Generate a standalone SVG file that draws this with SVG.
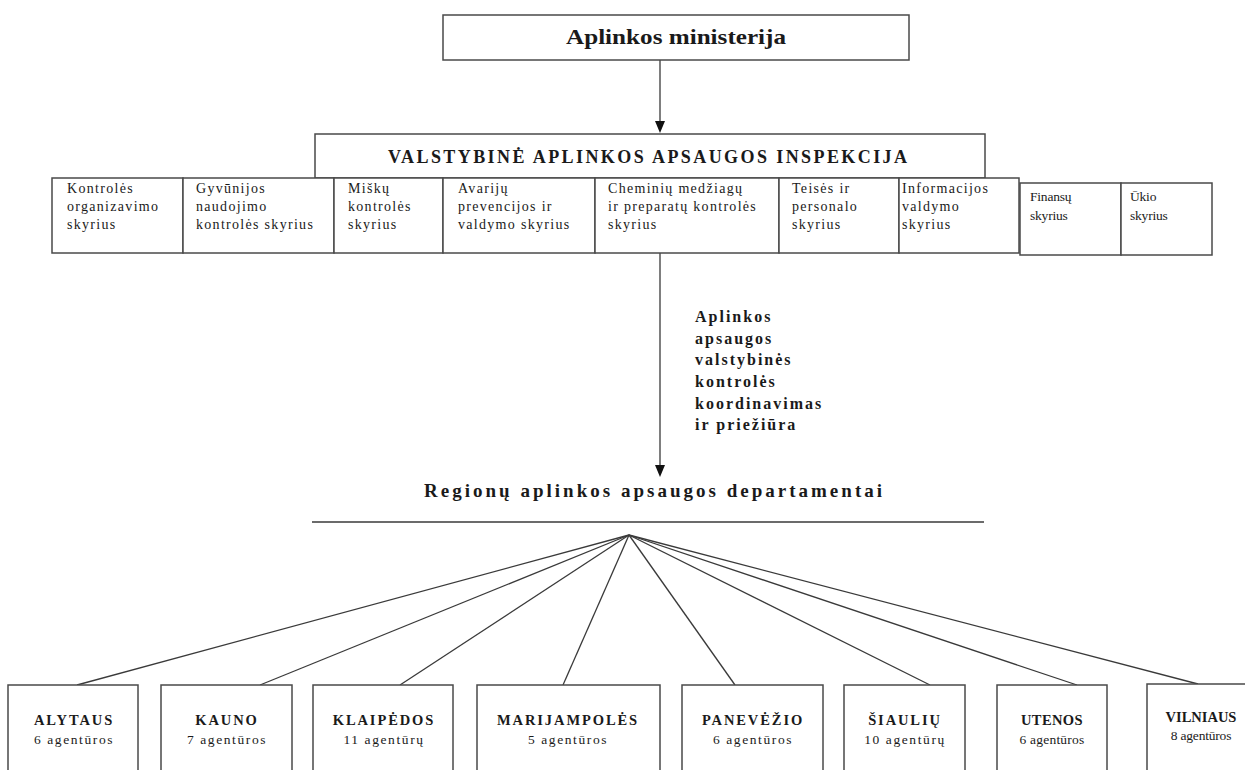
<svg xmlns="http://www.w3.org/2000/svg" width="1245" height="770" viewBox="0 0 1245 770">
<style>
.box{fill:#fff;stroke:#4a4a4a;stroke-width:1.5}
.ln{stroke:#3a3a3a;stroke-width:1.3;fill:none}
.t{font-family:"Liberation Serif","Times New Roman",serif;fill:#1a1a1a}
.b{font-weight:bold}
.cell{font-size:14px;letter-spacing:1.3px}
.cond{font-size:13.5px;letter-spacing:-0.2px}
.nm{font-size:14.5px;font-weight:bold;letter-spacing:1.9px;text-anchor:middle}
.ct{font-size:13.5px;letter-spacing:1.6px;text-anchor:middle}
.lab{font-size:16px;font-weight:bold;letter-spacing:2px}
</style>
<rect width="1245" height="770" fill="#fff"/>

<g id="connectors">
<line class="ln" x1="660" y1="60" x2="660" y2="122" stroke-width="2"/>
<path d="M655,121 L665,121 L660,133 Z" fill="#111"/>
<line class="ln" x1="660" y1="253" x2="660" y2="466" stroke-width="2"/>
<path d="M655,465 L665,465 L660,477 Z" fill="#111"/>
<line class="ln" x1="312" y1="522" x2="984" y2="522" stroke-width="1.6"/>
<line class="ln" x1="629" y1="535" x2="77" y2="685"/>
<line class="ln" x1="629" y1="535" x2="260" y2="685"/>
<line class="ln" x1="629" y1="535" x2="400" y2="685"/>
<line class="ln" x1="629" y1="535" x2="563" y2="685"/>
<line class="ln" x1="629" y1="535" x2="735" y2="685"/>
<line class="ln" x1="629" y1="535" x2="930" y2="685"/>
<line class="ln" x1="629" y1="535" x2="1077" y2="685"/>
<line class="ln" x1="629" y1="535" x2="1198" y2="684"/>
</g>

<g id="ministerija">
<rect class="box" x="443" y="15" width="466" height="45"/>
<text class="t b" x="566" y="44" font-size="21" textLength="220" lengthAdjust="spacingAndGlyphs">Aplinkos ministerija</text>
</g>

<g id="inspekcija">
<rect class="box" x="315" y="134" width="670" height="44"/>
<text class="t b" x="388" y="163" font-size="18" textLength="519" lengthAdjust="spacing">VALSTYBINĖ APLINKOS APSAUGOS INSPEKCIJA</text>
</g>

<g id="skyriai">
<rect class="box" x="52" y="178" width="131" height="75"/>
<rect class="box" x="183" y="178" width="151" height="75"/>
<rect class="box" x="334" y="178" width="109" height="75"/>
<rect class="box" x="443" y="178" width="152" height="75"/>
<rect class="box" x="595" y="178" width="184" height="75"/>
<rect class="box" x="779" y="178" width="120" height="75"/>
<rect class="box" x="899" y="178" width="120" height="75"/>
<rect class="box" x="1020" y="183" width="101" height="72"/>
<rect class="box" x="1121" y="183" width="91" height="72"/>
<g class="t cell">
<text x="67" y="193">Kontrolės</text>
<text x="67" y="211">organizavimo</text>
<text x="67" y="229">skyrius</text>
<text x="196" y="193">Gyvūnijos</text>
<text x="196" y="211">naudojimo</text>
<text x="196" y="229">kontrolės skyrius</text>
<text x="348" y="193">Miškų</text>
<text x="348" y="211">kontrolės</text>
<text x="348" y="229">skyrius</text>
<text x="458" y="193">Avarijų</text>
<text x="458" y="211">prevencijos ir</text>
<text x="458" y="229">valdymo skyrius</text>
<text x="608" y="193">Cheminių medžiagų</text>
<text x="608" y="211">ir preparatų kontrolės</text>
<text x="608" y="229">skyrius</text>
<text x="792" y="193">Teisės ir</text>
<text x="792" y="211">personalo</text>
<text x="792" y="229">skyrius</text>
<text x="902" y="193">Informacijos</text>
<text x="902" y="211">valdymo</text>
<text x="902" y="229">skyrius</text>
</g>
<g class="t cond">
<text x="1030" y="201">Finansų</text>
<text x="1030" y="220">skyrius</text>
<text x="1130" y="201">Ūkio</text>
<text x="1130" y="220">skyrius</text>
</g>
</g>

<g id="funkcija">
<g class="t lab">
<text x="695" y="322">Aplinkos</text>
<text x="695" y="344">apsaugos</text>
<text x="695" y="365">valstybinės</text>
<text x="695" y="387">kontrolės</text>
<text x="695" y="409">koordinavimas</text>
<text x="695" y="430">ir priežiūra</text>
</g>
</g>

<g id="departamentai">
<text class="t b" x="424" y="497" font-size="19" textLength="458" lengthAdjust="spacing">Regionų aplinkos apsaugos departamentai</text>
</g>

<g id="alytaus">
<rect class="box" x="8" y="685" width="130" height="100"/>
<text class="t nm" x="74" y="725">ALYTAUS</text>
<text class="t ct" x="74" y="744">6 agentūros</text>
</g>
<g id="kauno">
<rect class="box" x="161" y="685" width="131" height="100"/>
<text class="t nm" x="227" y="725">KAUNO</text>
<text class="t ct" x="227" y="744">7 agentūros</text>
</g>
<g id="klaipedos">
<rect class="box" x="313" y="685" width="140" height="100"/>
<text class="t nm" x="384" y="725">KLAIPĖDOS</text>
<text class="t ct" x="384" y="744">11 agentūrų</text>
</g>
<g id="marijampoles">
<rect class="box" x="477" y="685" width="183" height="100"/>
<text class="t nm" x="568" y="725">MARIJAMPOLĖS</text>
<text class="t ct" x="568" y="744">5 agentūros</text>
</g>
<g id="panevezio">
<rect class="box" x="682" y="685" width="141" height="100"/>
<text class="t nm" x="753" y="725">PANEVĖŽIO</text>
<text class="t ct" x="753" y="744">6 agentūros</text>
</g>
<g id="siauliu">
<rect class="box" x="844" y="685" width="121" height="100"/>
<text class="t nm" x="905" y="725">ŠIAULIŲ</text>
<text class="t ct" x="905" y="744">10 agentūrų</text>
</g>
<g id="utenos">
<rect class="box" x="997" y="685" width="110" height="100"/>
<text class="t nm" x="1052" y="725" style="letter-spacing:0.4px">UTENOS</text>
<text class="t ct" x="1052" y="744" style="letter-spacing:0.2px">6 agentūros</text>
</g>
<g id="vilniaus">
<rect class="box" x="1147" y="684" width="110" height="100"/>
<text class="t nm" x="1201" y="722" style="letter-spacing:0px">VILNIAUS</text>
<text class="t ct" x="1201" y="740" style="letter-spacing:-0.2px" font-size="12.5">8 agentūros</text>
</g>
</svg>
